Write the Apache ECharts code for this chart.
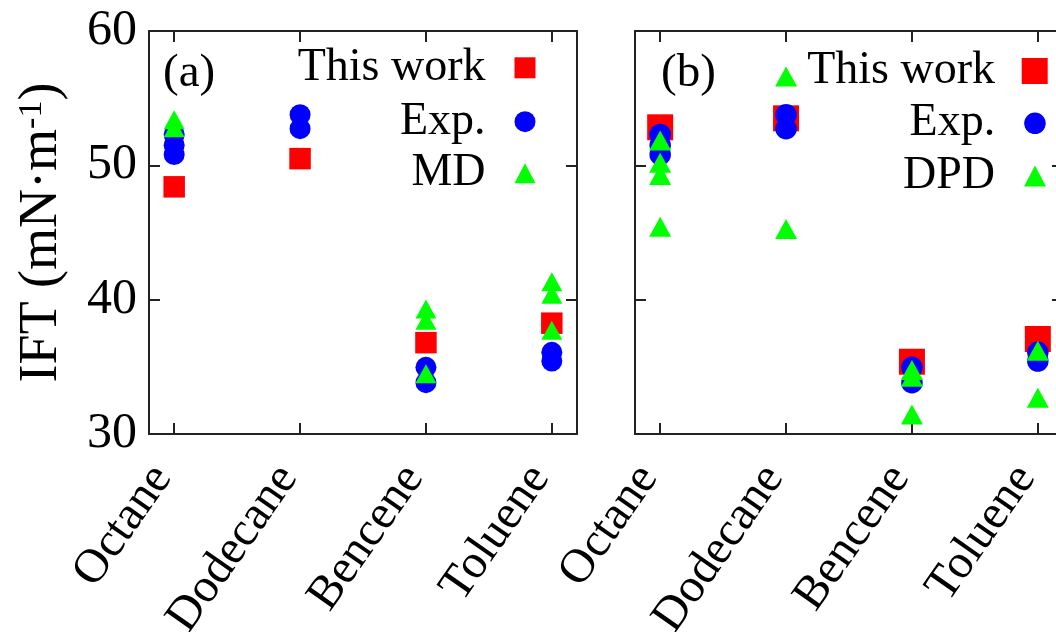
<!DOCTYPE html>
<html>
<head>
<meta charset="utf-8">
<script src="https://cdn.jsdelivr.net/npm/echarts@6/dist/echarts.min.js"></script>
<style>
  html, body { margin: 0; padding: 0; background: #fff; }
  #chart { width: 1056px; height: 632px; }
</style>
</head>
<body>
<div id="chart"></div>
<script>
// categories and tick labels
const categories = ['Octane', 'Dodecane', 'Bencene', 'Toluene'];
const yTicks = [30, 40, 50, 60];

// values per category (several points may sit on one category)
const expValues = [[52.3, 51.5, 50.8], [53.77, 52.73], [34.96, 33.82], [36.08, 35.43]];
// panel (a)
const thisWorkA = [[48.4], [50.5], [36.8], [38.25]];
const mdValues = [[53.4, 52.8], [], [39.3, 38.46, 34.49], [41.34, 40.4, 37.72]];
// panel (b)
const thisWorkB = [[52.83], [53.5], [35.38], [37.07]];
const dpdValues = [[51.84, 50.2, 49.28, 45.43], [56.62, 45.26], [34.76, 34.27, 31.46], [36.2, 32.7]];

const FONT = "'Liberation Serif', 'Times New Roman', serif";
const LINE = '#222';

// turn per-category lists into [index, value] pairs
const toPoints = groups => groups.flatMap((vals, i) => vals.map(v => [i, v]));

const catIdx = categories.map((c, i) => i);

function xAxisFor(gridIndex, top) {
  return {
    type: 'value', gridIndex, position: top ? 'top' : 'bottom',
    min: -0.2, max: 3.2,
    axisLine: { show: true, onZero: false, lineStyle: { color: LINE, width: 2 } },
    axisTick: { show: true, inside: true, length: 11, customValues: catIdx, lineStyle: { color: LINE, width: 2 } },
    axisLabel: top ? { show: false } : {
      show: true, customValues: catIdx, rotate: 55, margin: 19,
      padding: [0, 21, 0, 0],
      fontSize: 48, fontFamily: FONT, color: '#000',
      formatter: v => categories[Math.round(v)]
    },
    splitLine: { show: false }
  };
}

function yAxisFor(gridIndex, right, labels) {
  const ax = {
    type: 'value', gridIndex, position: right ? 'right' : 'left',
    min: yTicks[0], max: yTicks[yTicks.length - 1], interval: 10,
    axisLine: { show: true, onZero: false, lineStyle: { color: LINE, width: 2 } },
    axisTick: { show: true, inside: true, length: 11, lineStyle: { color: LINE, width: 2 } },
    axisLabel: labels ? { show: true, margin: 12, fontSize: 50, fontFamily: FONT, color: '#000' } : { show: false },
    splitLine: { show: false }
  };
  if (labels) {
    ax.name = '{a|IFT (mN·m}{s|-1}{a|)}';
    ax.nameLocation = 'middle';
    ax.nameGap = 80;
    ax.nameTextStyle = {
      rich: {
        a: { fontSize: 54, fontFamily: FONT, color: '#000' },
        s: { fontSize: 34, fontFamily: FONT, color: '#000', verticalAlign: 'top' }
      }
    };
  }
  return ax;
}

// one legend per entry so each marker sits where the reference puts it
function legendItem(name, icon, size, right, centerY, padRight) {
  return {
    data: [{ name, icon }], orient: 'vertical', align: 'right',
    right, top: centerY - 23, padding: 0,
    itemWidth: size[0], itemHeight: size[1], selectedMode: false,
    textStyle: { fontSize: 46, fontFamily: FONT, color: '#000', padding: [0, padRight, 0, 0] }
  };
}

function scatter(name, pts, xi, symbol, size, color) {
  return {
    type: 'scatter', name, data: pts, xAxisIndex: xi, yAxisIndex: xi,
    symbol, symbolSize: size, itemStyle: { color, opacity: 1 }
  };
}

const chart = echarts.init(document.getElementById('chart'));
chart.setOption({
  animation: false,
  backgroundColor: '#fff',
  title: [
    { text: '(a)', left: 158, top: 45, textStyle: { fontSize: 47, fontWeight: 'normal', fontFamily: FONT, color: '#000' } },
    { text: '(b)', left: 656, top: 45, textStyle: { fontSize: 47, fontWeight: 'normal', fontFamily: FONT, color: '#000' } }
  ],
  grid: [
    { left: 149, top: 31, width: 428, height: 403, outerBoundsMode: 'none' },
    { left: 635, top: 31, width: 428, height: 403, outerBoundsMode: 'none' }
  ],
  xAxis: [xAxisFor(0, false), xAxisFor(0, true), xAxisFor(1, false), xAxisFor(1, true)],
  yAxis: [yAxisFor(0, false, true), yAxisFor(0, true, false), yAxisFor(1, false, false), yAxisFor(1, true, false)],
  legend: [
    legendItem('This work', 'rect', [21, 21], 520.5, 67.8, 24),
    legendItem('Exp.', 'circle', [21, 21], 520.5, 121.7, 24),
    legendItem('MD', 'triangle', [21, 20], 520.5, 173.3, 24),
    legendItem('This work', 'rect', [26, 26], 8.3, 71, 21.7),
    legendItem('Exp.', 'circle', [21.5, 21.5], 10.3, 123.3, 24),
    legendItem('DPD', 'triangle', [22, 21], 10, 176, 24)
  ],
  series: [
    scatter('This work', toPoints(thisWorkA), 0, 'rect', 21.5, '#ff0000'),
    scatter('Exp.', toPoints(expValues), 0, 'circle', 21, '#0000ff'),
    scatter('MD', toPoints(mdValues), 0, 'triangle', [21, 19], '#00ff00'),
    scatter('This work', toPoints(thisWorkB), 2, 'rect', 26, '#ff0000'),
    scatter('Exp.', toPoints(expValues), 2, 'circle', 21.5, '#0000ff'),
    scatter('DPD', toPoints(dpdValues), 2, 'triangle', [22, 20], '#00ff00')
  ]
});
</script>
</body>
</html>
